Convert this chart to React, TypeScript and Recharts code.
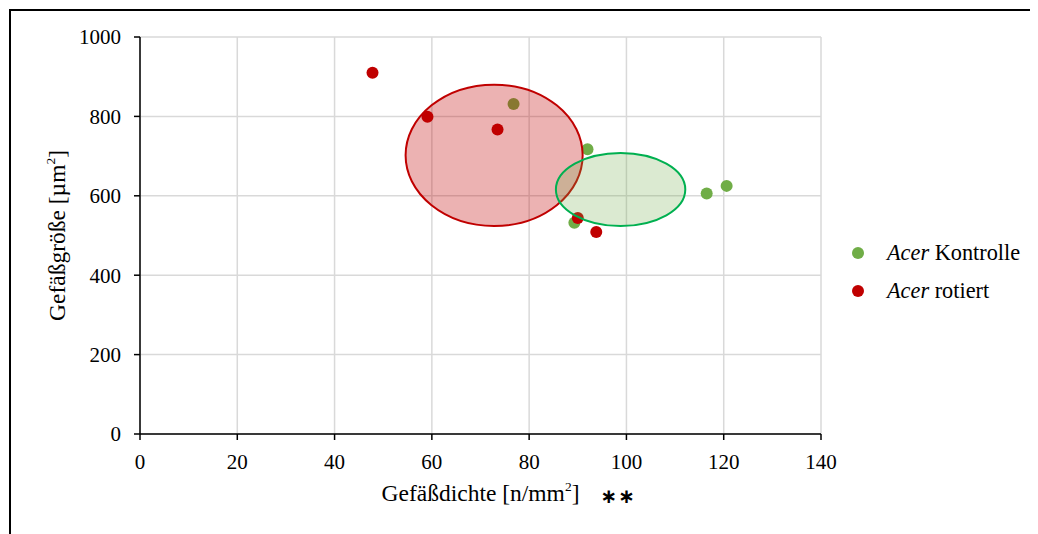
import { ScatterChart, Scatter, XAxis, YAxis, CartesianGrid, ReferenceArea, Label } from 'recharts';

// Gefäßdichte [n/mm²] und Gefäßgröße [µm²]
const kontrolleDichte = [76.8, 92.0, 89.3, 116.5, 120.6];
const kontrolleGroesse = [831, 717, 532, 606, 625];
const rotiertDichte = [47.8, 59.1, 73.5, 90.0, 93.8];
const rotiertGroesse = [910, 799, 767, 544, 509];

// Ellipsen: Mittelpunkt + Halbachsen (Dateneinheiten)
const kontrolleEllipse = { cx: 98.8, cy: 616, rx: 13.3, ry: 92 };
const rotiertEllipse = { cx: 72.8, cy: 702, rx: 18.2, ry: 178 };

const xTicks = [0, 20, 40, 60, 80, 100, 120, 140];
const yTicks = [0, 200, 400, 600, 800, 1000];

const seriesNames = ['Kontrolle', 'rotiert'];
const GREEN = '#70AD47';
const RED = '#C00000';
const FONT = '"Liberation Serif", "DejaVu Serif", serif';

const kontrolle = kontrolleDichte.map((x, i) => ({ x, y: kontrolleGroesse[i] }));
const rotiert = rotiertDichte.map((x, i) => ({ x, y: rotiertGroesse[i] }));

const dot = (color: string) => (p: any) => <circle cx={p.cx} cy={p.cy} r={6} fill={color} />;

const ellipseShape = (fill: string, stroke: string) => (p: any) => (
    <ellipse
        cx={p.x + p.width / 2}
        cy={p.y + p.height / 2}
        rx={Math.abs(p.width) / 2}
        ry={Math.abs(p.height) / 2}
        fill={fill}
        stroke={stroke}
        strokeWidth={2}
    />
);

const tickStyle = { fill: '#000', fontSize: 21, fontFamily: FONT };

export default function App() {
    return (
        <div
            style={{
                position: 'relative',
                width: 1030,
                height: 526,
                marginLeft: 1,
                marginTop: 1,
                borderTop: '2px solid #000',
                borderLeft: '2px solid #000',
                fontFamily: FONT,
            }}
        >
            <ScatterChart width={1028} height={524} margin={{ top: 26, right: 218, bottom: 31, left: 0 }}>
                <CartesianGrid stroke="#D9D9D9" strokeWidth={1.5} />
                <XAxis
                    type="number"
                    dataKey="x"
                    domain={[0, 140]}
                    ticks={xTicks}
                    height={70}
                    axisLine={{ stroke: '#000', strokeWidth: 1.5 }}
                    tickLine={{ stroke: '#000', strokeWidth: 1.5 }}
                    tickSize={6}
                    tickMargin={14}
                    tick={tickStyle}
                >
                    <Label
                        content={(props: any) => {
                            const vb = props.viewBox;
                            const cx = vb.x + vb.width / 2;
                            return (
                                <g fontFamily={FONT} fill="#000">
                                    <text x={cx} y={vb.y + 67} textAnchor="middle" fontSize={23.5}>
                                        Gefäßdichte [n/mm
                                        <tspan fontSize={13.5} dy={-10}>2</tspan>
                                        <tspan dy={10}>]</tspan>
                                    </text>
                                    <text
                                        x={cx + 120}
                                        y={vb.y + 69}
                                        fontSize={20}
                                        fontFamily="DejaVu Sans"
                                        fontWeight="bold"
                                        letterSpacing={1}
                                    >
                                        ∗∗
                                    </text>
                                </g>
                            );
                        }}
                    />
                </XAxis>
                <YAxis
                    type="number"
                    dataKey="y"
                    domain={[0, 1000]}
                    ticks={yTicks}
                    width={129}
                    axisLine={{ stroke: '#000', strokeWidth: 1.5 }}
                    tickLine={{ stroke: '#000', strokeWidth: 1.5 }}
                    tickSize={6}
                    tickMargin={13}
                    tick={tickStyle}
                >
                    <Label
                        content={(props: any) => {
                            const vb = props.viewBox;
                            const cy = vb.y + vb.height / 2;
                            const x = 54;
                            return (
                                <text
                                    x={x}
                                    y={cy}
                                    transform={`rotate(-90 ${x} ${cy})`}
                                    textAnchor="middle"
                                    fontSize={23.5}
                                    fontFamily={FONT}
                                    fill="#000"
                                >
                                    Gefäßgröße [µm
                                    <tspan fontSize={13.5} dy={-10}>2</tspan>
                                    <tspan dy={10}>]</tspan>
                                </text>
                            );
                        }}
                    />
                </YAxis>
                <Scatter
                    name={seriesNames[0]}
                    data={kontrolle}
                    fill={GREEN}
                    shape={dot(GREEN)}
                    isAnimationActive={false}
                    zIndex={600}
                />
                <ReferenceArea
                    x1={rotiertEllipse.cx - rotiertEllipse.rx}
                    x2={rotiertEllipse.cx + rotiertEllipse.rx}
                    y1={rotiertEllipse.cy - rotiertEllipse.ry}
                    y2={rotiertEllipse.cy + rotiertEllipse.ry}
                    shape={ellipseShape('rgba(192,0,0,0.3)', RED)}
                    zIndex={610}
                />
                <Scatter
                    name={seriesNames[1]}
                    data={rotiert}
                    fill={RED}
                    shape={dot(RED)}
                    isAnimationActive={false}
                    zIndex={620}
                />
                <ReferenceArea
                    x1={kontrolleEllipse.cx - kontrolleEllipse.rx}
                    x2={kontrolleEllipse.cx + kontrolleEllipse.rx}
                    y1={kontrolleEllipse.cy - kontrolleEllipse.ry}
                    y2={kontrolleEllipse.cy + kontrolleEllipse.ry}
                    shape={ellipseShape('rgba(112,173,71,0.25)', '#00B050')}
                    zIndex={630}
                />
            </ScatterChart>

            {/* Legende */}
            <div style={{ position: 'absolute', left: 841, top: 223, fontSize: 22.3, color: '#000' }}>
                {seriesNames.map((name, i) => (
                    <div key={name} style={{ display: 'flex', alignItems: 'center', height: 38 }}>
                        <span
                            style={{
                                display: 'inline-block',
                                width: 12,
                                height: 12,
                                borderRadius: 6,
                                background: i === 0 ? GREEN : RED,
                                marginRight: 23,
                            }}
                        />
                        <span>
                            <i>Acer</i> {name}
                        </span>
                    </div>
                ))}
            </div>
        </div>
    );
}
